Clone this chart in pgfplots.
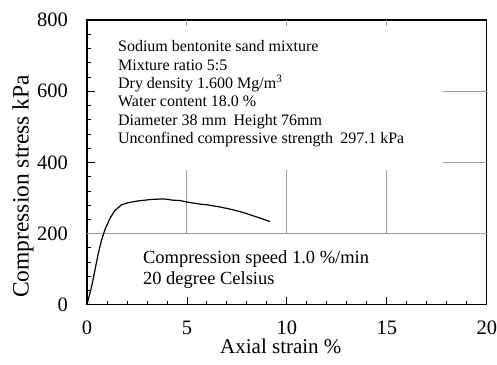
\documentclass[border=0pt]{standalone}
\usepackage{fontspec}
\setmainfont{Liberation Serif}
\usepackage{pgfplots}
\pgfplotsset{compat=1.18}
\begin{document}
\begin{tikzpicture}
\begin{axis}[
  scale only axis, width=400pt, height=285pt,
  xmin=0, xmax=20, ymin=0, ymax=800,
  xtick={0,5,10,15,20}, ytick={0,200,400,600,800},
  minor x tick num=4, minor y tick num=4,
  tick align=inside, xtick pos=bottom, ytick pos=left,
  major tick length=8pt, minor tick length=4pt,
  /pgf/number format/assume math mode=true,
  ticklabel style={font=\fontsize{20.5}{24}\selectfont},
  xticklabel style={anchor=base, inner sep=0pt, yshift=-30pt},
  yticklabel style={anchor=east, inner sep=0pt, xshift=-19pt},
  axis line style={line width=1.1pt},
  tick style={line width=0.8pt, black},
  clip=false,
  xlabel={Axial strain \%},
  ylabel={Compression stress kPa},
  every axis x label/.style={at={(axis description cs:0.485,-0.1719)}, anchor=base, inner sep=0pt, font=\fontsize{21}{24}\selectfont},
  every axis y label/.style={at={(axis description cs:-0.16,0.416)}, anchor=center, rotate=90, inner sep=0pt, font=\fontsize{23.5}{26}\selectfont},
]
\path (rel axis cs:-0.2175,-0.2105) rectangle (rel axis cs:1.025,1.0702);
% partial grid
\draw[gray!75, line width=0.9pt] (axis cs:0,200) -- (axis cs:20,200);
\draw[gray!75, line width=0.9pt] (axis cs:17.8,400) -- (axis cs:20,400);
\draw[gray!75, line width=0.9pt] (axis cs:17.8,600) -- (axis cs:20,600);
\foreach \xx in {5,10,15} {
  \edef\tmp{\noexpand\draw[gray!75, line width=0.9pt] (axis cs:\xx,200) -- (axis cs:\xx,379);}\tmp
  \edef\tmp{\noexpand\draw[gray!75, line width=0.9pt] (axis cs:\xx,800) -- (axis cs:\xx,783);}\tmp
}
\addplot[black, line width=1.2pt] coordinates {
(0,0) (0.08,18) (0.15,33) (0.27,61) (0.4,98) (0.57,145) (0.73,182) (0.9,211)
(1.15,243) (1.4,265) (1.73,281) (2.07,287) (2.57,292) (3.23,296) (3.6,297)
(3.9,297) (4.3,294) (4.65,293) (4.98,289) (5.3,286) (5.65,283) (6.0,281)
(6.32,278) (6.65,275) (6.98,271) (7.3,267) (7.65,262) (8.0,256) (8.32,250)
(8.7,243) (9.15,234)
};
\begin{scope}[every node/.style={anchor=base west, inner sep=0pt, font=\fontsize{16}{18}\selectfont}]
\node at (axis cs:1.55,711) {Sodium bentonite sand mixture};
\node at (axis cs:1.55,659.5) {Mixture ratio 5:5};
\node at (axis cs:1.55,608) {Dry density 1.600 Mg/m\textsuperscript{3}};
\node at (axis cs:1.55,556.5) {Water content 18.0 \%};
\node at (axis cs:1.55,505) {Diameter 38 mm\hspace{0.45em}Height 76mm};
\node at (axis cs:1.55,453.5) {Unconfined compressive strength\hspace{0.45em}297.1 kPa};
\end{scope}
\begin{scope}[every node/.style={anchor=base west, inner sep=0pt, font=\fontsize{18.5}{21}\selectfont}]
\node at (axis cs:2.8,117) {Compression speed 1.0 \%/min};
\node at (axis cs:2.8,58) {20 degree Celsius};
\end{scope}
\end{axis}
\end{tikzpicture}
\end{document}
